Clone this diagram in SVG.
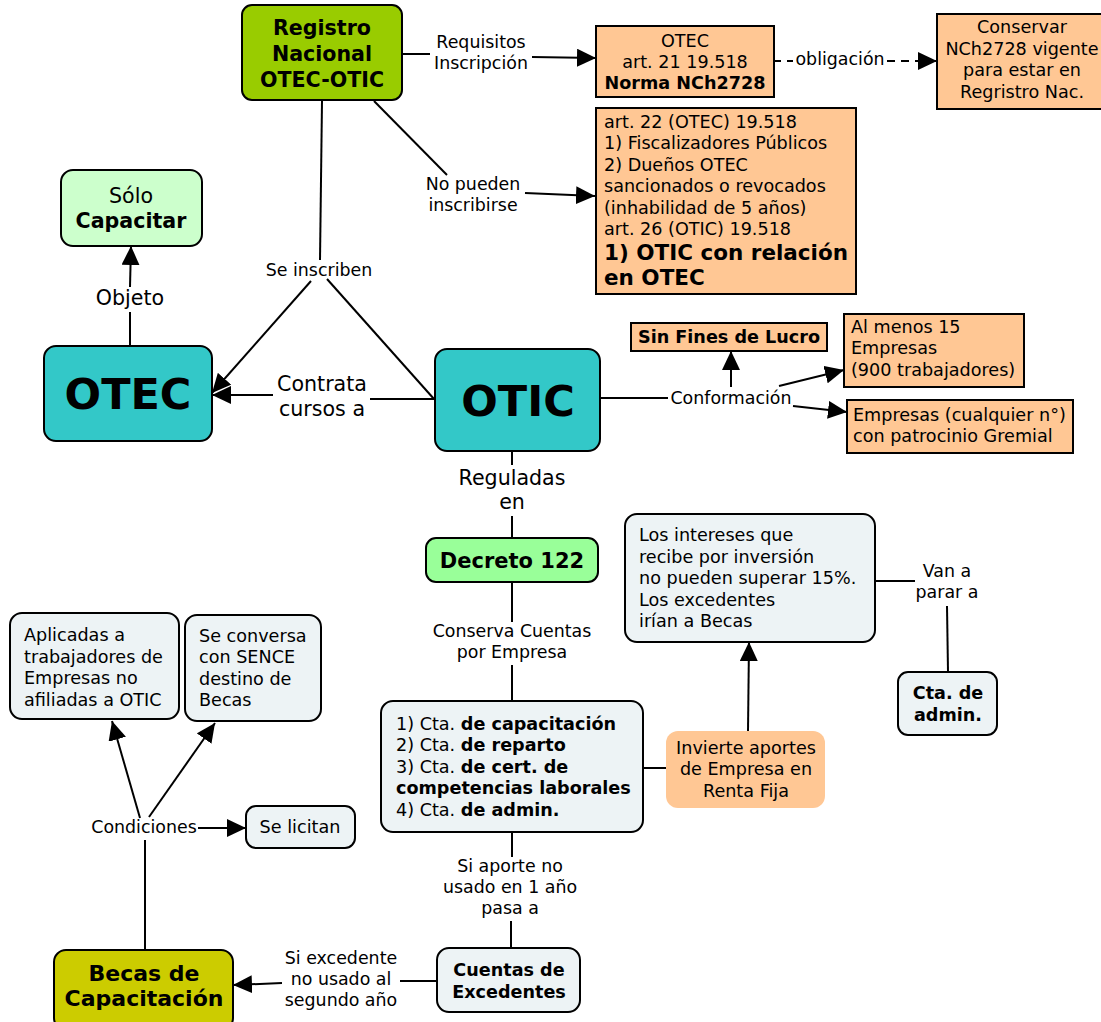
<svg xmlns="http://www.w3.org/2000/svg" width="1101" height="1022" viewBox="0 0 1101 1022">
<defs>
<marker id="arr" markerUnits="userSpaceOnUse" markerWidth="20" markerHeight="18" refX="19" refY="9" orient="auto">
<path d="M0,0 L19,9 L0,18 z" fill="#000"/>
</marker>
<style>
text{font-family:"DejaVu Sans","Verdana",sans-serif;fill:#000;font-size:17.6px}
.n{stroke:#000;stroke-width:2}
.or{fill:#ffc794}
.gb{fill:#edf3f5}
.c line{stroke:#000;stroke-width:2;fill:none}
.lbl{font-size:17.4px;text-anchor:middle}
.lbl2{font-size:20.6px;text-anchor:middle}
.m{text-anchor:middle}
.b{font-weight:bold}
.h{font-weight:bold;font-size:20.6px;text-anchor:middle}
.big{font-weight:bold;font-size:43px;text-anchor:middle}
.h21{font-weight:bold;font-size:21.5px}
.h22{font-weight:bold;font-size:22px;text-anchor:middle}
</style>
</defs>
<rect width="1101" height="1022" fill="#fff"/>

<g class="c" id="connectors">
<!-- Registro -> OTEC art21 -->
<line x1="402" y1="54" x2="430" y2="54"/>
<line x1="532" y1="57" x2="596" y2="58" marker-end="url(#arr)"/>
<!-- Registro -> art22 -->
<line x1="374" y1="101" x2="447" y2="175"/>
<line x1="525" y1="193" x2="595" y2="196" marker-end="url(#arr)"/>
<!-- Registro -> Se inscriben -->
<line x1="322" y1="101" x2="320" y2="260"/>
<line x1="311" y1="281" x2="212" y2="393" marker-end="url(#arr)"/>
<line x1="327" y1="279" x2="434" y2="399"/>
<!-- OTIC -> OTEC -->
<line x1="435" y1="399" x2="370" y2="399"/>
<line x1="273" y1="395" x2="212" y2="395" marker-end="url(#arr)"/>
<!-- OTEC -> Solo -->
<line x1="130" y1="346" x2="130" y2="312"/>
<line x1="130" y1="287" x2="131" y2="246" marker-end="url(#arr)"/>
<!-- obligacion -->
<line x1="775" y1="61" x2="794" y2="61" stroke-dasharray="6,6"/>
<line x1="887" y1="61" x2="937" y2="61" stroke-dasharray="8,6" marker-end="url(#arr)"/>
<!-- OTIC -> Conformacion -->
<line x1="600" y1="398" x2="668" y2="398"/>
<line x1="731" y1="387" x2="731" y2="351" marker-end="url(#arr)"/>
<line x1="779" y1="386" x2="844" y2="370" marker-end="url(#arr)"/>
<line x1="793" y1="406" x2="847" y2="412" marker-end="url(#arr)"/>
<!-- OTIC -> Decreto -->
<line x1="512" y1="451" x2="512" y2="465"/>
<line x1="512" y1="516" x2="512" y2="538"/>
<!-- Decreto -> Cuentas -->
<line x1="512" y1="582" x2="512" y2="622"/>
<line x1="512" y1="665" x2="512" y2="701"/>
<!-- Cuentas -> Invierte -->
<line x1="643" y1="768" x2="666" y2="768"/>
<!-- Invierte -> intereses -->
<line x1="748" y1="731" x2="749" y2="642" marker-end="url(#arr)"/>
<!-- intereses -> Cta admin -->
<line x1="875" y1="581" x2="915" y2="581"/>
<line x1="947" y1="606" x2="948" y2="672"/>
<!-- Cuentas -> Excedentes -->
<line x1="512" y1="832" x2="512" y2="857"/>
<line x1="511" y1="921" x2="511" y2="948"/>
<!-- Excedentes -> Becas -->
<line x1="437" y1="981" x2="400" y2="981"/>
<line x1="282" y1="983" x2="233" y2="985" marker-end="url(#arr)"/>
<!-- Becas -> Condiciones -->
<line x1="145" y1="950" x2="145" y2="840"/>
<line x1="140" y1="818" x2="112" y2="721" marker-end="url(#arr)"/>
<line x1="149" y1="817" x2="215" y2="723" marker-end="url(#arr)"/>
<line x1="198" y1="828" x2="246" y2="828" marker-end="url(#arr)"/>
</g>

<g id="labels">
<text class="lbl" x="481" y="48">Requisitos</text>
<text class="lbl" x="481" y="69">Inscripción</text>
<text class="lbl" x="473" y="190">No pueden</text>
<text class="lbl" x="473" y="211">inscribirse</text>
<text class="lbl" x="319" y="276">Se inscriben</text>
<text class="lbl2" x="322" y="391">Contrata</text>
<text class="lbl2" x="322" y="416">cursos a</text>
<text class="lbl2" x="130" y="305">Objeto</text>
<text class="lbl" x="840" y="65">obligación</text>
<text class="lbl" x="731" y="404">Conformación</text>
<text class="lbl2" x="512" y="485">Reguladas</text>
<text class="lbl2" x="512" y="509">en</text>
<text class="lbl" x="512" y="637">Conserva Cuentas</text>
<text class="lbl" x="512" y="658">por Empresa</text>
<text class="lbl" x="947" y="577">Van a</text>
<text class="lbl" x="947" y="598">parar a</text>
<text class="lbl" x="510" y="872">Si aporte no</text>
<text class="lbl" x="510" y="893">usado en 1 año</text>
<text class="lbl" x="510" y="914">pasa a</text>
<text class="lbl" x="341" y="964">Si excedente</text>
<text class="lbl" x="341" y="985">no usado al</text>
<text class="lbl" x="341" y="1006">segundo año</text>
<text class="lbl" x="144" y="833">Condiciones</text>
</g>

<g id="registro">
<rect class="n" x="242" y="5" width="160" height="95" rx="10" fill="#99cc00"/>
<text class="h" x="322" y="35">Registro</text>
<text class="h" x="322" y="61">Nacional</text>
<text class="h" x="322" y="87">OTEC-OTIC</text>
</g>

<g id="otec-art21">
<rect class="n or" x="596" y="26" width="178" height="71"/>
<text class="m" x="685" y="47">OTEC</text>
<text class="m" x="685" y="68">art. 21 19.518</text>
<text class="m b" x="685" y="89">Norma NCh2728</text>
</g>

<g id="conservar">
<rect class="n or" x="937" y="14" width="170" height="95"/>
<text class="m" x="1022" y="33">Conservar</text>
<text class="m" x="1022" y="55">NCh2728 vigente</text>
<text class="m" x="1022" y="76">para estar en</text>
<text class="m" x="1022" y="98">Regristro Nac.</text>
</g>

<g id="art22">
<rect class="n or" x="596" y="108" width="260" height="186"/>
<text x="604" y="128">art. 22 (OTEC) 19.518</text>
<text x="604" y="149">1) Fiscalizadores Públicos</text>
<text x="604" y="171">2) Dueños OTEC</text>
<text x="604" y="192">sancionados o revocados</text>
<text x="604" y="214">(inhabilidad de 5 años)</text>
<text x="604" y="235">art. 26 (OTIC) 19.518</text>
<text class="h21" x="604" y="260">1) OTIC con relación</text>
<text class="h21" x="604" y="285">en OTEC</text>
</g>

<g id="solo">
<rect class="n" x="61" y="170" width="141" height="76" rx="12" fill="#ccffcc"/>
<text class="lbl2" x="131" y="203">Sólo</text>
<text class="h" x="131" y="228">Capacitar</text>
</g>

<g id="otec">
<rect class="n" x="44" y="346" width="168" height="95" rx="12" fill="#33c8c8"/>
<text class="big" x="128" y="409">OTEC</text>
</g>

<g id="otic">
<rect class="n" x="435" y="349" width="165" height="102" rx="12" fill="#33c8c8"/>
<text class="big" x="518" y="416">OTIC</text>
</g>

<g id="sinfines">
<rect class="n or" x="631" y="323" width="196" height="28"/>
<text class="m b" x="729" y="343">Sin Fines de Lucro</text>
</g>

<g id="almenos">
<rect class="n or" x="844" y="314" width="180" height="73"/>
<text x="851" y="333">Al menos 15</text>
<text x="851" y="354">Empresas</text>
<text x="851" y="376">(900 trabajadores)</text>
</g>

<g id="empresas">
<rect class="n or" x="847" y="400" width="226" height="53"/>
<text x="853" y="421">Empresas (cualquier n°)</text>
<text x="853" y="442">con patrocinio Gremial</text>
</g>

<g id="decreto">
<rect class="n" x="426" y="538" width="172" height="44" rx="10" fill="#99ff99"/>
<text class="h" style="font-size:21px" x="512" y="568">Decreto 122</text>
</g>

<g id="intereses">
<rect class="n gb" x="625" y="514" width="250" height="128" rx="12"/>
<text x="639" y="541">Los intereses que</text>
<text x="639" y="563">recibe por inversión</text>
<text x="639" y="584">no pueden superar 15%.</text>
<text x="639" y="606">Los excedentes</text>
<text x="639" y="627">irían a Becas</text>
</g>

<g id="ctaadmin">
<rect class="n gb" x="898" y="672" width="99" height="63" rx="10"/>
<text class="m b" x="948" y="699">Cta. de</text>
<text class="m b" x="948" y="721">admin.</text>
</g>

<g id="cuentas">
<rect class="n gb" x="381" y="701" width="262" height="131" rx="12"/>
<text x="396" y="730">1) Cta. <tspan class="b">de capacitación</tspan></text>
<text x="396" y="751">2) Cta. <tspan class="b">de reparto</tspan></text>
<text x="396" y="773">3) Cta. <tspan class="b">de cert. de</tspan></text>
<text class="b" x="396" y="794">competencias laborales</text>
<text x="396" y="816">4) Cta. <tspan class="b">de admin.</tspan></text>
</g>

<g id="invierte">
<rect x="666" y="731" width="159" height="77" rx="12" fill="#ffc794"/>
<text class="m" x="746" y="754">Invierte aportes</text>
<text class="m" x="746" y="775">de Empresa en</text>
<text class="m" x="746" y="797">Renta Fija</text>
</g>

<g id="aplicadas">
<rect class="n gb" x="10" y="613" width="169" height="106" rx="12"/>
<text x="24" y="641">Aplicadas a</text>
<text x="24" y="663">trabajadores de</text>
<text x="24" y="684">Empresas no</text>
<text x="24" y="706">afiliadas a OTIC</text>
</g>

<g id="seconversa">
<rect class="n gb" x="185" y="615" width="136" height="106" rx="12"/>
<text x="199" y="642">Se conversa</text>
<text x="199" y="663">con SENCE</text>
<text x="199" y="685">destino de</text>
<text x="199" y="706">Becas</text>
</g>

<g id="selicitan">
<rect class="n gb" x="246" y="806" width="109" height="42" rx="10"/>
<text class="m" x="300" y="833">Se licitan</text>
</g>

<g id="becas">
<rect class="n" x="54" y="950" width="179" height="80" rx="12" fill="#cccc00"/>
<text class="h22" x="144" y="981">Becas de</text>
<text class="h22" x="144" y="1006">Capacitación</text>
</g>

<g id="excedentes">
<rect class="n gb" x="437" y="948" width="143" height="64" rx="12"/>
<text class="m b" x="509" y="976">Cuentas de</text>
<text class="m b" x="509" y="998">Excedentes</text>
</g>
</svg>
